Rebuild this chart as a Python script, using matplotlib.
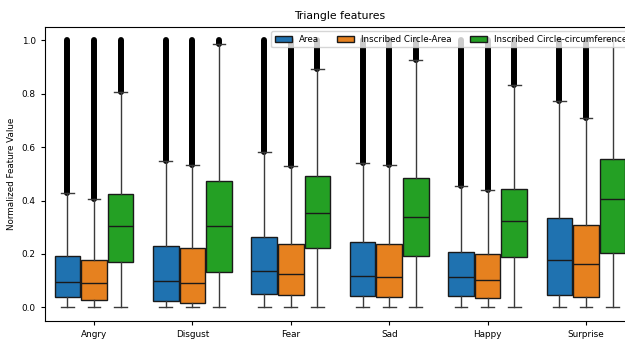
import matplotlib
matplotlib.use("Agg")
import matplotlib.pyplot as plt
from matplotlib.patches import Patch

emotions = ["Angry", "Disgust", "Fear", "Sad", "Happy", "Surprise"]
features = ["Area", "Inscribed Circle-Area", "Inscribed Circle-circumference"]
colors = ["#1f72b0", "#e6811f", "#24a024"]

# per feature, one value per emotion
q1 = {
    "Area": [0.038, 0.023, 0.051, 0.044, 0.043, 0.048],
    "Inscribed Circle-Area": [0.028, 0.018, 0.048, 0.038, 0.035, 0.040],
    "Inscribed Circle-circumference": [0.170, 0.133, 0.221, 0.193, 0.189, 0.204],
}
med = {
    "Area": [0.094, 0.100, 0.135, 0.119, 0.115, 0.179],
    "Inscribed Circle-Area": [0.093, 0.091, 0.125, 0.115, 0.104, 0.163],
    "Inscribed Circle-circumference": [0.304, 0.306, 0.355, 0.340, 0.325, 0.404],
}
q3 = {
    "Area": [0.194, 0.231, 0.263, 0.244, 0.209, 0.336],
    "Inscribed Circle-Area": [0.179, 0.221, 0.239, 0.236, 0.198, 0.308],
    "Inscribed Circle-circumference": [0.425, 0.474, 0.491, 0.486, 0.445, 0.555],
}
whis_hi = {
    "Area": [0.430, 0.549, 0.583, 0.541, 0.456, 0.773],
    "Inscribed Circle-Area": [0.404, 0.534, 0.528, 0.535, 0.440, 0.710],
    "Inscribed Circle-circumference": [0.806, 0.985, 0.894, 0.925, 0.834, 1.0],
}
whis_lo = 0.0
flier_max = 1.0

offsets = [-0.27, 0.0, 0.27]
box_w = 0.26

fig = plt.figure(figsize=(6.25, 3.41), dpi=100)
ax = fig.add_axes([0.0717, 0.0595, 0.9446, 0.8613])

for j, feat in enumerate(features):
    stats = []
    pos = []
    for i, emo in enumerate(emotions):
        stats.append({
            "med": med[feat][i], "q1": q1[feat][i], "q3": q3[feat][i],
            "whislo": whis_lo, "whishi": whis_hi[feat][i], "fliers": [],
        })
        pos.append(i + offsets[j])
    ax.bxp(stats, positions=pos, widths=box_w, patch_artist=True, showfliers=False,
           boxprops=dict(facecolor=colors[j], edgecolor="#1a1a1a", linewidth=1.0),
           medianprops=dict(color="#1a1a1a", linewidth=1.0),
           whiskerprops=dict(color="#3a3a3a", linewidth=1.0),
           capprops=dict(color="#3a3a3a", linewidth=1.0))
    # outliers are so dense they merge into a solid black column
    tops = [p for p, w in zip(pos, whis_hi[feat]) if w < flier_max]
    lows = [w for w in whis_hi[feat] if w < flier_max]
    lc = ax.vlines(tops, lows, flier_max, color="black", linewidth=4.3, zorder=1)
    lc.set_capstyle("round")

ax.set_xlim(-0.5, len(emotions) - 0.5)
ax.set_ylim(-0.05, 1.05)
ax.set_xticks(range(len(emotions)))
ax.set_xticklabels(emotions)
ax.set_yticks([0.0, 0.2, 0.4, 0.6, 0.8, 1.0])
ax.tick_params(labelsize=6.4, length=3)
ax.set_xlabel("Emotion", fontsize=6.4, labelpad=2)
ax.set_ylabel("Normalized Feature Value", fontsize=6.3)
ax.set_title("Triangle features", fontsize=7.8)

handles = [Patch(facecolor=c, edgecolor="#1a1a1a", label=f) for c, f in zip(colors, features)]
ax.legend(handles=handles, loc="upper right", ncol=3, fontsize=6.3)

plt.savefig("out.png", dpi=100)
